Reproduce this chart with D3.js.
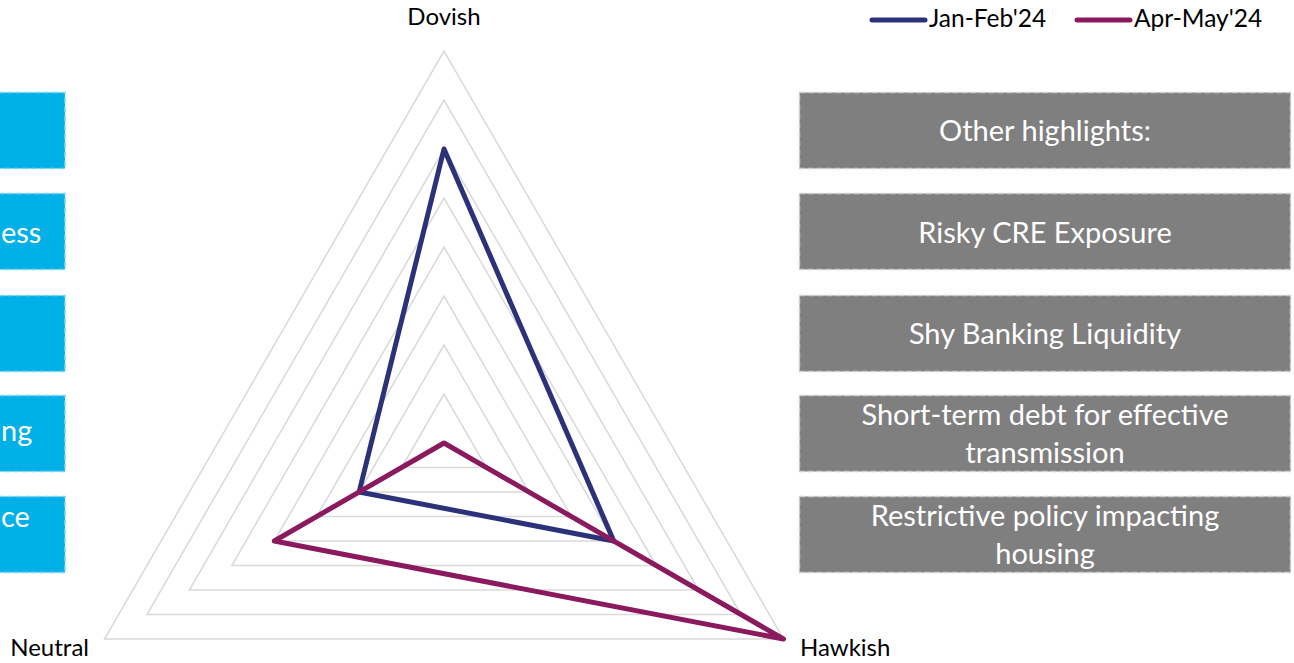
<!DOCTYPE html>
<html>
<head>
<meta charset="utf-8">
<script src="https://cdn.jsdelivr.net/npm/d3@7"></script>
<style>
  html, body { margin: 0; padding: 0; background: #ffffff; }
  svg { display: block; }
  text { font-family: Lato, "Open Sans", "Noto Sans", sans-serif; }
</style>
</head>
<body>
<svg id="chart" width="1294" height="663"></svg>
<script>
// Survey axes, clockwise from the top
const axes = ["Dovish", "Hawkish", "Neutral"];

// Series values on each axis (Dovish, Hawkish, Neutral)
const janFeb = [6, 4, 2];
const aprMay = [0, 8, 4];

const seriesNames = ["Jan-Feb'24", "Apr-May'24"];
const seriesColors = ["#2b327a", "#8a1a5d"];

// Grid rings
const gridLevels = [1, 2, 3, 4, 5, 6, 7, 8];
const maxValue = 8;

// Side panel texts
const rightNotes = [
  ["Other highlights:"],
  ["Risky CRE Exposure"],
  ["Shy Banking Liquidity"],
  ["Short-term debt for effective", "transmission"],
  ["Restrictive policy impacting", "housing"]
];
const leftNotes = ["", "ess", "", "ng", "ce"];

const svg = d3.select("#chart");

// ---- radar geometry ----
const cx = 444, cy = 443, R = 392;
const r = d3.scaleLinear().domain([0, maxValue]).range([0, R]);
const angle = d3.scaleOrdinal().domain(axes).range(axes.map((d, i) => i * 2 * Math.PI / axes.length));

function pt(axis, v) {
  const a = angle(axis);
  return [cx + r(v) * Math.sin(a), cy - r(v) * Math.cos(a)];
}

const line = d3.line().curve(d3.curveLinearClosed);

// grid triangles
svg.append("g").selectAll("path")
  .data(gridLevels)
  .join("path")
  .attr("d", lv => line(axes.map(a => pt(a, lv))))
  .attr("fill", "none")
  .attr("stroke", "#d9d9d9")
  .attr("stroke-width", 1.5);

// series polygons
const series = [janFeb, aprMay];
svg.append("g").selectAll("path")
  .data(series)
  .join("path")
  .attr("d", vals => line(axes.map((a, i) => pt(a, vals[i]))))
  .attr("fill", "none")
  .attr("stroke", (d, i) => seriesColors[i])
  .attr("stroke-width", 5)
  .attr("stroke-linejoin", "round");

// axis labels
const labelPos = {
  Dovish: { x: cx, y: 25, anchor: "middle" },
  Hawkish: { x: 800, y: 656, anchor: "start" },
  Neutral: { x: 89, y: 656, anchor: "end" }
};
svg.append("g").selectAll("text")
  .data(axes)
  .join("text")
  .attr("x", d => labelPos[d].x)
  .attr("y", d => labelPos[d].y)
  .attr("text-anchor", d => labelPos[d].anchor)
  .attr("font-size", 24)
  .attr("fill", "#000")
  .text(d => d);

// legend
const legendX = [872, 1077];
const leg = svg.append("g").selectAll("g")
  .data(seriesNames)
  .join("g")
  .attr("transform", (d, i) => `translate(${legendX[i]},0)`);
leg.append("line")
  .attr("x1", 0).attr("x2", 53).attr("y1", 20).attr("y2", 20)
  .attr("stroke", (d, i) => seriesColors[i])
  .attr("stroke-width", 5)
  .attr("stroke-linecap", "round");
leg.append("text")
  .attr("x", 57).attr("y", 27)
  .attr("font-size", 24.5)
  .attr("fill", "#000")
  .text(d => d);

// side boxes
const boxTop = [92, 193, 295, 395, 496];
const boxH = 76;
const rightBaseline = [[141], [243], [344], [425, 463], [526, 564]];

const rg = svg.append("g");
rg.selectAll("rect")
  .data(rightNotes)
  .join("rect")
  .attr("x", 799.5).attr("y", (d, i) => boxTop[i] + 0.5)
  .attr("width", 491).attr("height", boxH)
  .attr("fill", "#7f7f7f")
  .attr("stroke", "#cfcfcf")
  .attr("stroke-width", 1.5)
  .attr("stroke-dasharray", "6 3");
rightNotes.forEach((lines, i) => {
  lines.forEach((t, j) => {
    rg.append("text")
      .attr("x", 1045).attr("y", rightBaseline[i][j])
      .attr("text-anchor", "middle")
      .attr("font-size", 29)
      .attr("fill", "#ffffff")
      .text(t);
  });
});

const lg = svg.append("g");
lg.selectAll("rect")
  .data(leftNotes)
  .join("rect")
  .attr("x", -20).attr("y", (d, i) => boxTop[i] + 0.5)
  .attr("width", 85).attr("height", boxH)
  .attr("fill", "#00b0e6")
  .attr("stroke", "#7fd3f2")
  .attr("stroke-width", 1.5)
  .attr("stroke-dasharray", "6 3");
const leftStart = [1, 1, 1, 1, 1];
const leftBaseline = [0, 243, 0, 441, 527];
lg.selectAll("text")
  .data(leftNotes)
  .join("text")
  .attr("x", (d, i) => leftStart[i])
  .attr("y", (d, i) => leftBaseline[i])
  .attr("text-anchor", "start")
  .attr("font-size", 29)
  .attr("fill", "#ffffff")
  .text(d => d);
</script>
</body>
</html>
